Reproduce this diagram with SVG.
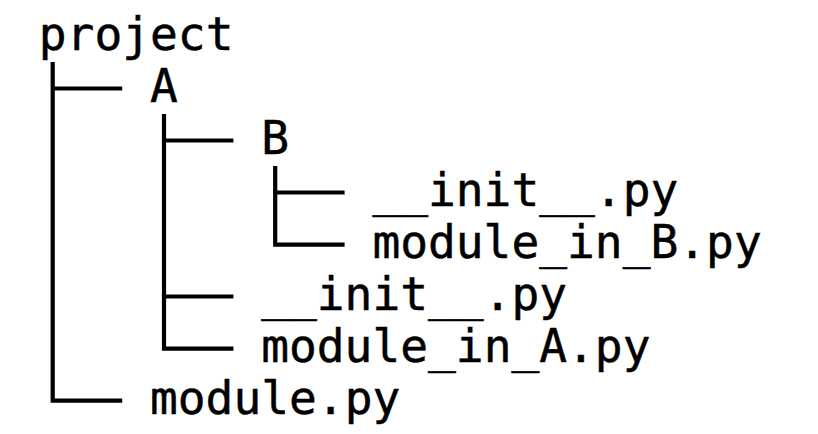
<svg xmlns="http://www.w3.org/2000/svg" width="818" height="434" viewBox="0 0 818 434">
<style>
text{font-family:"DejaVu Sans Mono","Liberation Mono",monospace;font-size:46.2px;fill:#000;stroke:#000;stroke-width:0.5}
.c{fill:none;stroke:#000;stroke-width:4.2;stroke-linecap:butt}
</style>
<rect width="818" height="434" fill="#fff"/>
<g id="connectors">
<path class="c" d="M52.7,62 V400.7 M52.7,88.5 H122.2 M50.6,400.7 H122.2"/>
<path class="c" d="M164,114 V348.7 M164,140.5 H233.4 M164,296.5 H233.4 M161.9,348.7 H233.4"/>
<path class="c" d="M275.2,166 V244.7 M275.2,192.5 H344.6 M273.1,244.7 H344.6"/>
</g>
<g id="project"><text x="38.8" y="50">project</text></g>
<g id="A"><text x="150" y="102">A</text></g>
<g id="B"><text x="261.2" y="154">B</text></g>
<g id="B_init"><text x="372.4" y="206">__init__.py</text></g>
<g id="module_in_B"><text x="372.4" y="258">module_in_B.py</text></g>
<g id="A_init"><text x="261.2" y="310">__init__.py</text></g>
<g id="module_in_A"><text x="261.2" y="362">module_in_A.py</text></g>
<g id="module"><text x="150" y="414">module.py</text></g>
</svg>
